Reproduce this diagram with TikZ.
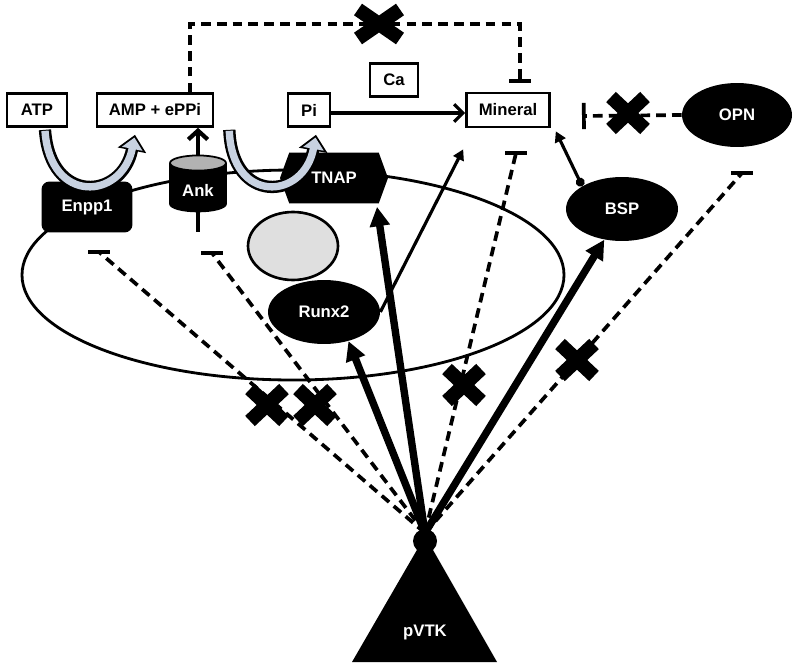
\documentclass[tikz,border=0pt]{standalone}
\usepackage{fontspec}
\setmainfont{Liberation Sans}
\usetikzlibrary{shapes.geometric, shapes.symbols, shapes.misc, arrows.meta, calc}
\definecolor{fatfill}{RGB}{200,210,225}
\tikzstyle{molbox} = [rectangle, draw=black, line width=1.5pt, minimum height=0.66cm, inner sep=0pt, fill=white]
\tikzstyle{protein} = [ellipse, fill=black, text=white, minimum width=2.24cm, minimum height=1.28cm]
\tikzstyle{blockx} = [cross out, draw=black, line width=8pt, minimum width=0.68cm, minimum height=0.64cm, inner sep=0pt, outer sep=0pt]
\tikzstyle{inhib} = [line width=2.1pt, dash pattern=on 5.5pt off 3.5pt]
\tikzstyle{tbar} = [line width=2.2pt]
\tikzstyle{strong} = [line width=4.2pt, -{Triangle[length=11pt,width=11pt]}]
\tikzstyle{thin} = [line width=1.8pt]
\tikzstyle{fatout} = [line width=7pt, black, -{Triangle[length=9pt,width=16pt]}]
\tikzstyle{fatin} = [line width=4.2pt, fatfill, shorten >=1.6pt, -{Triangle[length=6.5pt,width=11.5pt]}]

\begin{document}
\begin{tikzpicture}[x=0.02cm, y=-0.02cm, font=\bfseries\fontsize{9.5}{11}\selectfont]
    \useasboundingbox (0,0) rectangle (800,669);

    % cell and nucleus
    \draw[line width=1.6pt] (293,275) ellipse [x radius=271, y radius=105];
    \node (nucleus) [ellipse, draw=black, line width=1.5pt, fill=gray!25, minimum width=1.8cm, minimum height=1.36cm] at (293,246) {};
    \node (runx2) [protein] at (324,312) {Runx2};

    % small molecules
    \node (atp) [molbox, minimum width=1.2cm] at (37,110) {ATP};
    \node (amp) [molbox, minimum width=2.32cm] at (155,110) {AMP + ePPi};
    \node (pi) [molbox, minimum width=0.84cm] at (309,110) {Pi};
    \node (ca) [molbox, minimum width=0.96cm] at (394,80) {Ca};
    \node (mineral) [molbox, minimum width=1.66cm, minimum height=0.68cm] at (508,110) {Mineral};

    % proteins
    \node (opn) [protein, minimum width=2.2cm] at (737,115) {OPN};
    \node (bsp) [protein] at (622,209) {BSP};
    \node (enpp1) [rectangle, rounded corners=0.16cm, fill=black, text=white, minimum width=1.82cm, minimum height=1.02cm] at (87,207) {Enpp1};
    \node (ank) [cylinder, shape border rotate=90, draw=black, line width=1pt, cylinder uses custom fill, cylinder body fill=black, cylinder end fill=gray!60, text=white, minimum width=1.12cm, minimum height=1.12cm, aspect=0.35] at (198,190) {Ank};
    \node (tnap) [signal, signal to=west and east, signal pointer angle=140, fill=black, text=white, minimum width=2.16cm, minimum height=1.02cm] at (334,178) {TNAP};

    % enzyme reactions
    \draw[fatout] ($(atp.south)+(8,2)$) .. controls (50,205) and (122,200) .. ($(amp.south)+(-20,7)$);
    \draw[fatin] ($(atp.south)+(8,3)$) .. controls (50,205) and (122,200) .. ($(amp.south)+(-20,7)$);
    \draw[fatout] ($(amp.south east)+(15,2)$) .. controls (232,205) and (304,200) .. ($(pi.south)+(7,7)$);
    \draw[fatin] ($(amp.south east)+(15,3)$) .. controls (232,205) and (304,200) .. ($(pi.south)+(7,7)$);
    \draw[line width=2.4pt, -{Straight Barb[length=5pt,width=11pt]}] (ank.north) -- (amp.south -| ank.north);
    \draw[line width=2.4pt] (ank.south) -- ++(0,20);

    \draw[thin, -{Straight Barb[length=5pt,width=10pt]}] (pi.east |- 0,113) -- (mineral.west |- 0,113);
    \draw[thin, -{Triangle[length=6pt,width=6.5pt]}] (runx2.east) -- ($(mineral.south west)+(-2,21)$);
    \draw[thin, {Circle[length=5pt]}-{Triangle[length=6pt,width=6.5pt]}] (bsp.north west) -- ($(mineral.south east)+(5,3)$);

    % blocked mineral inhibition
    \draw[inhib, line width=2.3pt, -{Bar[width=12pt]}, shorten >=0.18cm] ([xshift=0.7cm]amp.north) -- ++(0,-68) -| ([xshift=0.24cm]mineral.north);
    \draw[inhib, -{Bar[width=15pt]}] (opn.west) -- (582,116);

    % pVTK signalling
    \coordinate (apex) at (425,533);
    \coordinate (enppbar) at (99,252);
    \coordinate (ankbar) at (212,253);
    \coordinate (minbar) at (516,153);
    \coordinate (opnbar) at (742,173);
    \draw[inhib] (apex) -- (enppbar);
    \draw[inhib] (apex) -- (ankbar);
    \draw[inhib] (apex) -- (minbar);
    \draw[inhib] (apex) -- (opnbar);
    \draw[tbar] ($(enppbar)+(-11,0)$) -- ($(enppbar)+(11,0)$);
    \draw[tbar] ($(ankbar)+(-11,0)$) -- ($(ankbar)+(11,0)$);
    \draw[tbar] ($(minbar)+(-11,0)$) -- ($(minbar)+(11,0)$);
    \draw[tbar] ($(opnbar)+(-11,0)$) -- ($(opnbar)+(11,0)$);
    \draw[strong] (apex) -- (runx2.-50);
    \draw[strong] (apex) -- ($(tnap.south)+(43,3)$);
    \draw[strong] (apex) -- (bsp.-120);

    % blocks
    \node (x1) [blockx] at (267,405) {};
    \node (x2) [blockx] at (315,405) {};
    \node (x3) [blockx] at (464,385) {};
    \node (x4) [blockx] at (577,360) {};
    \node (x5) [blockx] at (628,113) {};
    \node (x6) [blockx, minimum width=0.84cm, minimum height=0.58cm] at (379,24) {};

    % kinase
    \fill (425,536) -- (352,662) -- (497,662) -- cycle;
    \node (hub) [circle, fill=black, minimum size=0.48cm, inner sep=0pt] at (425,541) {};
    \node (pvtk) [text=white] at (425,632) {pVTK};
\end{tikzpicture}
\end{document}
